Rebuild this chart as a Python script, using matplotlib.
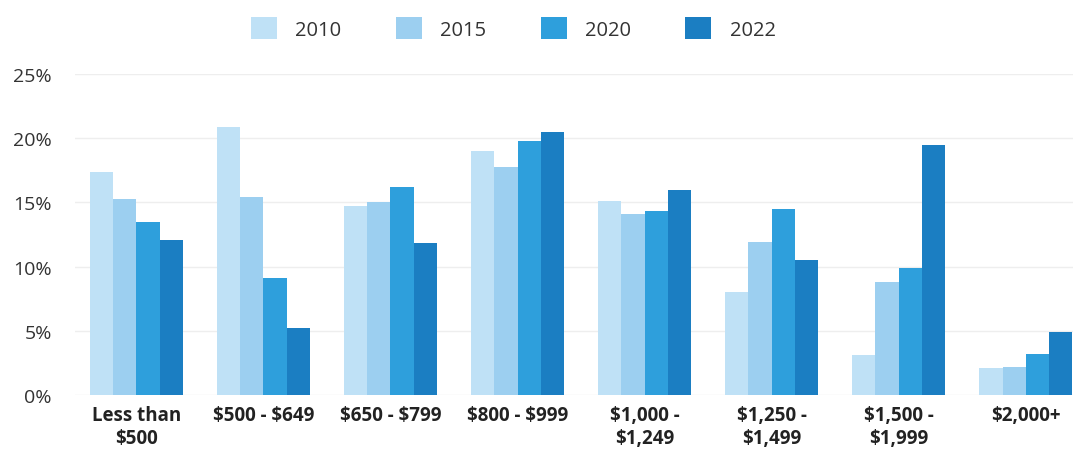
import numpy as np
import matplotlib.pyplot as plt

plt.rcParams['font.family'] = ['Open Sans', 'DejaVu Sans']
plt.rcParams['text.parse_math'] = False

categories = ["Less than\n$500", "$500 - $649", "$650 - $799", "$800 - $999",
              "$1,000 -\n$1,249", "$1,250 -\n$1,499", "$1,500 -\n$1,999", "$2,000+"]
years = ["2010", "2015", "2020", "2022"]
share_2010 = [17.4, 20.9, 14.7, 19.0, 15.1, 8.0, 3.1, 2.1]
share_2015 = [15.3, 15.4, 15.0, 17.8, 14.1, 11.9, 8.8, 2.2]
share_2020 = [13.5, 9.1, 16.2, 19.8, 14.3, 14.5, 9.9, 3.2]
share_2022 = [12.1, 5.2, 11.8, 20.5, 16.0, 10.5, 19.5, 4.9]
y_ticks = [0, 5, 10, 15, 20, 25]

colors = ["#bfe1f6", "#9ccff0", "#2e9fdc", "#1b7ec2"]
series = [share_2010, share_2015, share_2020, share_2022]

fig = plt.figure(figsize=(10.76, 4.64), dpi=100)
ax = fig.add_axes([0.07, 0.147, 0.927, 0.691])

x = np.arange(len(categories))
w = 0.183
for i, (vals, c, yr) in enumerate(zip(series, colors, years)):
    ax.bar(x + (i - 1.5) * w, vals, width=w, color=c, label=yr, zorder=2)

ax.set_ylim(0, 25)
ax.set_xlim(-0.48, 7.37)
ax.set_yticks(y_ticks)
ax.set_yticklabels([f"{t}%" for t in y_ticks], fontsize=14, color="#333333")
ax.set_xticks(x)
ax.set_xticklabels(categories, fontsize=13.5, fontweight="bold", color="#222222",
                   linespacing=1.2, va="top")
ax.tick_params(axis="both", length=0)
ax.tick_params(axis="x", pad=7)
ax.tick_params(axis="y", pad=17)
ax.grid(axis="y", color="#eeeeee", linewidth=1, zorder=0)
for s in ax.spines.values():
    s.set_visible(False)

fig.legend(loc="upper center", bbox_to_anchor=(0.477, 1.0), ncol=4, frameon=False,
           fontsize=14.5, handlelength=1.3, handleheight=1.3, handletextpad=0.9,
           columnspacing=2.7, labelcolor="#333333")

fig.savefig("out.png", dpi=100)
